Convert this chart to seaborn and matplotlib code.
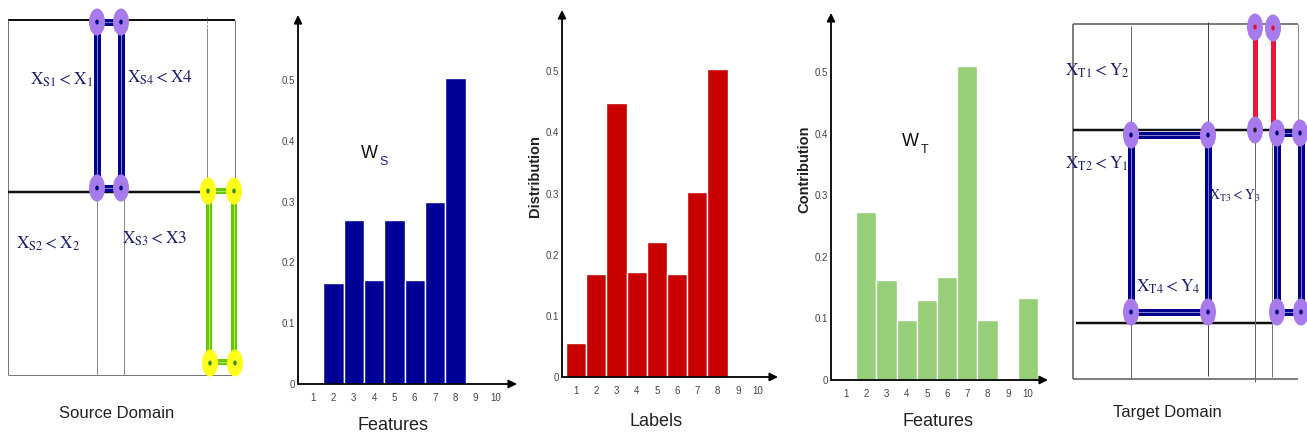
import matplotlib
matplotlib.use("Agg")
import matplotlib.pyplot as plt
from matplotlib.patches import Ellipse
import seaborn as sns
import pandas as pd

# ---------------- data ----------------
features = [1, 2, 3, 4, 5, 6, 7, 8, 9, 10]
ws_values = [0.0, 0.166, 0.27, 0.171, 0.27, 0.171, 0.30, 0.504, 0.0, 0.0]
dist_values = [0.056, 0.168, 0.448, 0.171, 0.22, 0.168, 0.302, 0.503, 0.0, 0.0]
wt_values = [0.0, 0.273, 0.162, 0.097, 0.13, 0.167, 0.51, 0.097, 0.0, 0.133]
ytick_values = [0, 0.1, 0.2, 0.3, 0.4, 0.5]
ytick_labels = ["0", "0.1", "0.2", "0.3", "0.4", "0.5"]
xtick_labels = [str(f) for f in features]

sns.set_theme(style="white")
SANS = ["Liberation Sans", "DejaVu Sans"]
plt.rcParams["font.family"] = SANS
plt.rcParams["mathtext.fontset"] = "stix"

W, H = 1307, 440
fig = plt.figure(figsize=(W / 100, H / 100), dpi=100)


def px_axes(x0, ytop, x1, ybot):
    return fig.add_axes([x0 / W, (H - ybot) / H, (x1 - x0) / W, (ybot - ytop) / H])


def bar_panel(box, xlim, ylim, values, color):
    ax = px_axes(*box)
    df = pd.DataFrame({"feature": features, "value": values})
    sns.barplot(data=df, x="feature", y="value", native_scale=True, width=1.0,
                color=color, saturation=1, edgecolor="white", linewidth=1.0, ax=ax)
    ax.set_xlim(*xlim)
    ax.set_ylim(*ylim)
    for s in ax.spines.values():
        s.set_visible(False)
    ax.set_facecolor("none")
    ax.set_xticks(features)
    ax.set_xticklabels(xtick_labels)
    ax.set_yticks(ytick_values)
    ax.set_yticklabels(ytick_labels)
    ax.tick_params(axis="both", length=0, labelsize=7, colors="#444444")
    ax.tick_params(axis="x", pad=6.5)
    ax.tick_params(axis="y", pad=2.5)
    ax.set_xlabel("")
    ax.set_ylabel("")
    ax.annotate("", xy=(1.0, 0), xytext=(0, 0), xycoords="axes fraction",
                arrowprops=dict(arrowstyle="-|>", color="black", lw=1.3,
                                mutation_scale=12, shrinkA=0, shrinkB=0))
    ax.annotate("", xy=(0, 1.0), xytext=(0, 0), xycoords="axes fraction",
                arrowprops=dict(arrowstyle="-|>", color="black", lw=1.3,
                                mutation_scale=12, shrinkA=0, shrinkB=0))
    return ax


ax2 = bar_panel((298, 15, 517, 384), (0.26, 11.03), (0, 0.607), ws_values, "#000096")
ax3 = bar_panel((562, 10, 778, 377), (0.31, 10.99), (0, 0.60), dist_values, "#C80000")
ax4 = bar_panel((831, 13, 1048, 380), (0.26, 10.99), (0, 0.596), wt_values, "#96CF78")

# ---------------- overlay in pixel coordinates ----------------
ov = fig.add_axes([0, 0, 1, 1])
ov.set_xlim(0, W)
ov.set_ylim(H, 0)
ov.axis("off")
ov.set_facecolor("none")

PT = 0.72  # pixels -> points at dpi 100


def line(xs, ys, color="#555555", lw_px=1.0, ls="-", z=2):
    ov.plot(xs, ys, color=color, lw=lw_px * PT, ls=ls, zorder=z, solid_capstyle="butt")


def double_line(xs, ys, color, stripe, lw_px=7, z=3):
    ov.plot(xs, ys, color=color, lw=lw_px * PT, zorder=z, solid_capstyle="projecting")
    ov.plot(xs, ys, color=stripe, lw=1.0 * PT, zorder=z + 0.1, solid_capstyle="butt")


def node(x, y, face="#A77BEB", dot="#000080", w=16, h=27):
    ov.add_patch(Ellipse((x, y), w, h, facecolor=face, edgecolor="none", zorder=6))
    ov.add_patch(Ellipse((x, y), 3.5, 5, facecolor=dot, edgecolor="none", zorder=7))


NAVY = "#00008C"
NAVY_STRIPE = "#7F7FC8"
TXT = "#1E1E6E"

# ---- Source domain ----
line([8, 235], [20, 20], color="#111111", lw_px=2)
line([8, 8], [20, 375], color="#777777")
line([8, 235], [375, 375], color="#777777")
line([235, 235], [20, 375], color="#777777")
line([8, 207], [192, 192], color="#111111", lw_px=2.5)
line([97, 97], [192, 375], color="#888888")
line([124, 124], [192, 375], color="#888888")
line([207, 207], [28, 192], color="#888888")
line([207, 207], [17, 28], color="#888888", ls=(0, (2, 2)))
double_line([97, 121, 121, 97, 97], [22, 22, 188, 188, 22], NAVY, NAVY_STRIPE)
double_line([209, 234, 234, 209, 209], [191, 191, 362, 362, 191], "#66C800", "#B4E678", lw_px=6)
for (x, y) in [(97, 22), (121, 22), (97, 188), (121, 188)]:
    node(x, y)
for (x, y) in [(208, 191), (234, 191), (210, 363), (235, 363)]:
    node(x, y, face="#FFFF1A", dot="#3C8C00")

ov.text(62, 80, r"$\mathrm{X_{S1} < X_1}$", ha="center", va="center", fontsize=12.5, color=TXT)
ov.text(160, 78, r"$\mathrm{X_{S4} < X4}$", ha="center", va="center", fontsize=12.5, color=TXT)
ov.text(48, 244, r"$\mathrm{X_{S2} < X_2}$", ha="center", va="center", fontsize=12.5, color=TXT)
ov.text(155, 239, r"$\mathrm{X_{S3} < X3}$", ha="center", va="center", fontsize=12.5, color=TXT)
ov.text(117, 413, "Source Domain", ha="center", va="center", fontsize=12, color="#222222")

# ---- bar-panel texts ----
ov.text(369, 154, "W", ha="center", va="center", fontsize=13, color="#111111")
ov.text(384, 162, "S", ha="center", va="center", fontsize=9, color="#1E1E9A")
ov.text(910, 142, "W", ha="center", va="center", fontsize=13, color="#111111")
ov.text(925, 150, "T", ha="center", va="center", fontsize=9, color="#111111")
ov.text(393, 425, "Features", ha="center", va="center", fontsize=13, color="#222222")
ov.text(656, 422, "Labels", ha="center", va="center", fontsize=13, color="#222222")
ov.text(938, 422, "Features", ha="center", va="center", fontsize=13, color="#222222")
ov.text(535, 176, "Distribution", ha="center", va="center", rotation=90,
        fontsize=10.5, fontweight="bold", color="#222222")
ov.text(804, 169, "Contribution", ha="center", va="center", rotation=90,
        fontsize=10.5, fontweight="bold", color="#222222")

# ---- Target domain ----
line([1073, 1298], [24, 24], color="#555555", lw_px=1.5)
line([1073, 1073], [24, 379], color="#555555", lw_px=1.5)
line([1073, 1298], [379, 379], color="#555555", lw_px=1.5)
line([1298, 1298], [24, 312], color="#888888")
line([1073, 1298], [130, 130], color="#111111", lw_px=2.5)
line([1076, 1273], [323, 323], color="#111111", lw_px=2.5)
line([1131, 1131], [26, 379], color="#666666")
line([1208, 1208], [22, 376], color="#444444")
line([1255, 1255], [130, 382], color="#666666")
line([1272, 1272], [130, 377], color="#777777")
double_line([1131, 1208, 1208, 1131, 1131], [135, 135, 312, 312, 135], NAVY, NAVY_STRIPE)
double_line([1277, 1301, 1301, 1277, 1277], [133, 133, 312, 312, 133], NAVY, NAVY_STRIPE)
line([1255, 1255], [27, 130], color="#F0143C", lw_px=5, z=3)
line([1273, 1273], [28, 128], color="#F0143C", lw_px=5, z=3)
for (x, y) in [(1131, 135), (1208, 135), (1131, 312), (1208, 312),
               (1277, 133), (1300, 133), (1277, 312), (1301, 312)]:
    node(x, y)
node(1255, 27, dot="#E0102E")
node(1273, 28, dot="#E0102E")
node(1255, 130, dot="#222222")

ov.text(1097, 71, r"$\mathrm{X_{T1} < Y_2}$", ha="center", va="center", fontsize=12.5, color=TXT)
ov.text(1097, 164, r"$\mathrm{X_{T2} < Y_1}$", ha="center", va="center", fontsize=12.5, color=TXT)
ov.text(1235, 196, r"$\mathrm{X_{T3} < Y_3}$", ha="center", va="center", fontsize=10, color=TXT)
ov.text(1168, 287, r"$\mathrm{X_{T4} < Y_4}$", ha="center", va="center", fontsize=12.5, color=TXT)
ov.text(1167, 413, "Target Domain", ha="center", va="center", fontsize=12, color="#222222")

fig.savefig("out.png", dpi=100)
